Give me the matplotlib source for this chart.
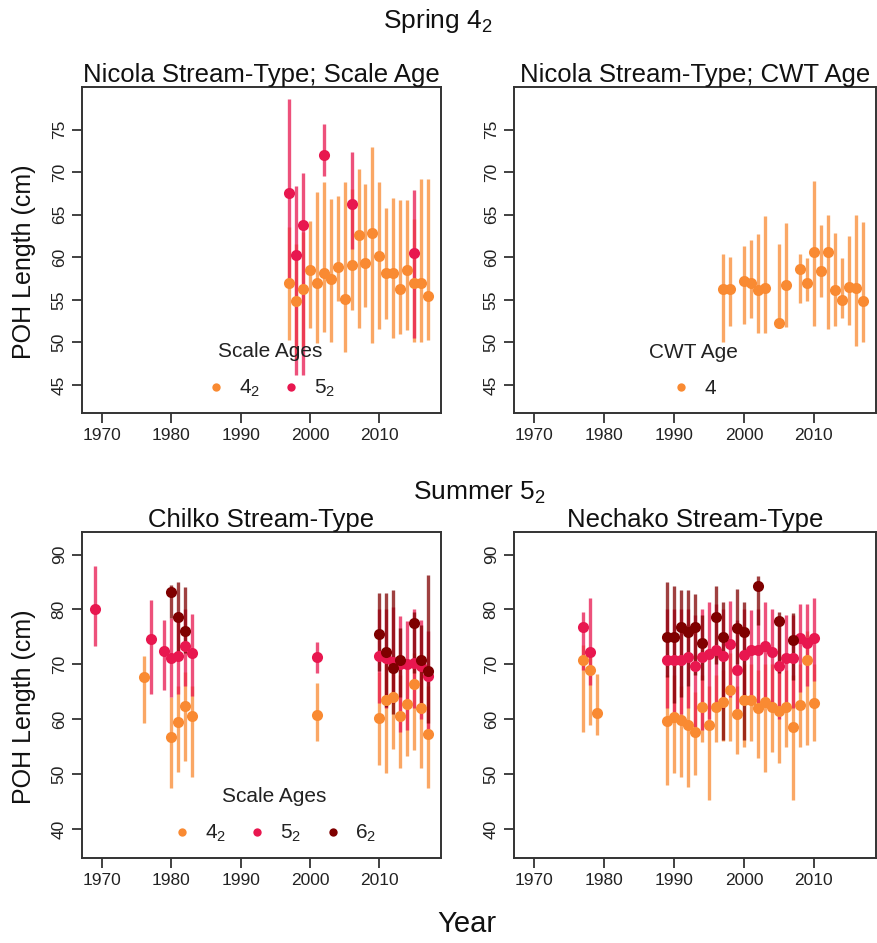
import matplotlib
matplotlib.use("Agg")
import matplotlib.pyplot as plt
from matplotlib.lines import Line2D

plt.rcParams['font.family'] = ['Liberation Sans', 'DejaVu Sans']
plt.rcParams['mathtext.fontset'] = 'custom'
plt.rcParams['mathtext.rm'] = 'Liberation Sans'
plt.rcParams['mathtext.it'] = 'Liberation Sans'
plt.rcParams['mathtext.default'] = 'regular'

C42 = '#F98A32'
C52 = '#E8174F'
C62 = '#7F0000'

# ---------------- Nicola Stream-Type; Scale Age ----------------
nic_a42_years = list(range(1997, 2018))
nic_a42_mean = [57.0, 54.8, 56.3, 58.5, 57.0, 58.2, 57.5, 58.9, 55.1, 59.1, 62.6,
                59.3, 62.9, 60.2, 58.2, 58.2, 56.3, 58.5, 57.0, 57.0, 55.4]
nic_a42_lo = [50.3, 48.0, 49.5, 51.7, 49.9, 51.2, 50.1, 54.8, 48.9, 53.8, 51.7,
              54.1, 49.9, 51.6, 52.8, 50.5, 51.0, 51.4, 50.0, 50.1, 50.3]
nic_a42_hi = [63.5, 61.5, 63.0, 64.3, 67.7, 68.8, 66.9, 67.2, 68.8, 68.0, 70.4,
              68.6, 72.9, 68.8, 65.8, 67.0, 66.7, 66.7, 64.5, 69.2, 69.2]

nic_a52_years = [1997, 1998, 1999, 2002, 2006, 2015]
nic_a52_mean = [67.6, 60.3, 63.8, 72.0, 66.2, 60.5]
nic_a52_lo = [56.7, 46.2, 46.2, 69.6, 61.0, 50.5]
nic_a52_hi = [78.6, 68.4, 69.9, 75.6, 72.4, 67.9]

# ---------------- Nicola Stream-Type; CWT Age ----------------
cwt_years = [1997, 1998, 2000, 2001, 2002, 2003, 2005, 2006, 2008, 2009, 2010,
             2011, 2012, 2013, 2014, 2015, 2016, 2017]
cwt_mean = [56.3, 56.3, 57.2, 57.0, 56.1, 56.4, 52.3, 56.7, 58.6, 57.0, 60.6,
            58.4, 60.6, 56.1, 55.0, 56.5, 56.4, 54.9]
cwt_lo = [50.1, 51.9, 52.2, 52.9, 51.1, 51.1, 51.7, 51.8, 54.6, 54.8, 51.9,
          55.3, 51.6, 51.9, 52.9, 52.0, 49.6, 50.1]
cwt_hi = [60.4, 60.0, 61.3, 62.0, 62.7, 64.9, 61.5, 64.0, 60.4, 59.9, 69.0,
          63.8, 65.0, 62.9, 59.9, 62.5, 65.0, 64.1]

# ---------------- Chilko Stream-Type ----------------
chi_a42_years = [1976, 1980, 1981, 1982, 1983, 2001, 2010, 2011, 2012, 2013,
                 2014, 2015, 2016, 2017]
chi_a42_mean = [67.7, 56.8, 59.4, 62.4, 60.5, 60.8, 60.2, 63.5, 64.1, 60.5,
                62.7, 66.4, 62.0, 57.3]
chi_a42_lo = [59.3, 47.4, 50.4, 52.3, 49.4, 56.0, 51.7, 50.1, 54.5, 51.1,
              53.2, 54.3, 51.1, 47.5]
chi_a42_hi = [71.5, 64.0, 66.0, 68.5, 66.0, 66.5, 68.5, 70.0, 71.0, 68.0,
              70.0, 72.0, 70.0, 66.0]

chi_a52_years = [1969, 1977, 1979, 1980, 1981, 1982, 1983, 2001, 2010, 2011,
                 2012, 2013, 2014, 2015, 2016, 2017]
chi_a52_mean = [80.1, 74.6, 72.5, 71.1, 71.5, 73.3, 72.1, 71.3, 71.5, 71.1,
                70.5, 70.0, 70.0, 70.3, 69.7, 67.9]
chi_a52_lo = [73.3, 64.6, 65.4, 64.0, 64.5, 66.0, 64.2, 68.4, 63.0, 62.0,
              63.0, 57.7, 58.0, 62.0, 60.0, 58.0]
chi_a52_hi = [87.9, 81.7, 78.1, 78.5, 79.0, 80.0, 79.2, 74.1, 80.0, 80.0,
              80.5, 78.8, 77.8, 80.0, 78.0, 76.0]

chi_a62_years = [1980, 1981, 1982, 2010, 2011, 2012, 2013, 2015, 2016, 2017]
chi_a62_mean = [83.1, 78.7, 76.1, 75.5, 72.2, 69.3, 70.7, 77.6, 70.7, 68.8]
chi_a62_lo = [78.4, 70.8, 72.0, 68.7, 62.3, 61.0, 64.0, 68.4, 61.1, 59.3]
chi_a62_hi = [84.5, 84.9, 84.1, 82.9, 82.9, 83.5, 76.6, 79.6, 77.2, 86.3]

# ---------------- Nechako Stream-Type ----------------
nec_a42_years = [1977, 1978, 1979] + list(range(1989, 2011))
nec_a42_mean = [70.8, 69.0, 61.2, 59.7, 60.4, 59.8, 58.9, 57.7, 62.3, 58.9,
                62.3, 63.2, 65.3, 60.9, 63.5, 63.5, 62.0, 63.2, 62.3, 61.4,
                62.3, 58.6, 62.6, 70.7, 63.0]
nec_a42_lo = [57.7, 58.9, 57.1, 48.0, 50.1, 49.5, 47.7, 49.8, 55.9, 45.3,
              55.9, 56.0, 56.0, 53.6, 55.0, 56.0, 53.0, 50.4, 54.0, 52.1,
              55.0, 45.3, 55.0, 55.3, 56.0]
nec_a42_hi = [73.5, 72.0, 68.2, 68.0, 68.0, 66.0, 66.0, 65.0, 68.0, 66.0,
              68.0, 69.0, 72.0, 66.0, 70.0, 70.0, 69.0, 70.0, 70.0, 69.0,
              69.0, 68.0, 70.0, 76.0, 70.0]

nec_a52_years = [1977, 1978] + list(range(1989, 2011))
nec_a52_mean = [76.8, 72.2, 70.8, 70.8, 70.8, 71.3, 69.6, 71.4, 71.9, 72.6,
                71.5, 73.7, 69.0, 71.7, 72.6, 72.6, 73.3, 72.3, 69.6, 71.1,
                71.1, 74.7, 73.8, 74.7]
nec_a52_lo = [69.0, 66.2, 62.0, 60.0, 61.0, 62.0, 58.6, 58.0, 60.0, 63.0,
              62.0, 64.0, 60.0, 63.0, 64.0, 63.0, 64.0, 63.0, 60.0, 62.0,
              62.0, 65.0, 66.0, 67.0]
nec_a52_hi = [79.5, 82.0, 80.0, 80.0, 80.0, 80.0, 79.0, 80.0, 81.3, 81.0,
              80.0, 81.5, 78.0, 80.0, 79.9, 80.0, 81.3, 80.0, 78.0, 79.0,
              79.0, 81.0, 81.0, 82.0]

nec_a62_years = [1989, 1990, 1991, 1992, 1993, 1994, 1996, 1997, 1999, 2000,
                 2002, 2005, 2007]
nec_a62_mean = [75.0, 75.0, 76.7, 75.8, 76.7, 73.8, 78.7, 75.0, 76.6, 75.9,
                84.3, 77.8, 74.4]
nec_a62_lo = [67.7, 63.0, 64.1, 66.0, 68.0, 67.1, 70.0, 56.2, 70.0, 56.2,
              77.2, 68.4, 67.1]
nec_a62_hi = [84.9, 84.3, 83.5, 83.5, 82.8, 79.0, 84.3, 81.3, 83.8, 81.4,
              86.1, 79.6, 79.3]

XTICKS = [1970, 1980, 1990, 2000, 2010]
W, H = 877, 943
fig = plt.figure(figsize=(W / 100, H / 100), dpi=100)


def make_ax(x0, y0, x1, y1):
    return fig.add_axes([x0 / W, 1 - y1 / H, (x1 - x0) / W, (y1 - y0) / H])


def style(ax, ylim, yticks, title):
    ax.set_xlim(1967.1, 2018.9)
    ax.set_ylim(*ylim)
    ax.set_xticks(XTICKS)
    ax.set_yticks(yticks)
    ax.set_yticklabels([str(v) for v in yticks], rotation=90, va='center')
    ax.tick_params(direction='out', length=7, width=1.3, color='#333333',
                   labelsize=12.5, labelcolor='#222222', pad=4)
    for s in ax.spines.values():
        s.set_linewidth(1.4)
        s.set_color('#333333')
    ax.set_title(title, fontsize=18.5, pad=1, color='#111111')


def draw(ax, series):
    for yrs, m, lo, hi, c in series:
        ax.vlines(yrs, lo, hi, colors=c, linewidth=2.4, alpha=0.75, zorder=2)
    for yrs, m, lo, hi, c in series:
        ax.plot(yrs, m, 'o', color=c, markersize=8, markeredgewidth=0, zorder=3)


def legend(ax, labels, colors, title, anchor):
    hs = [Line2D([], [], marker='o', linestyle='none', color=c, markersize=6,
                 markeredgewidth=0) for c in colors]
    lg = ax.legend(hs, labels, title=title, ncol=len(labels), frameon=False,
                   loc='center', bbox_to_anchor=anchor, fontsize=15,
                   title_fontsize=15, handletextpad=0.6, columnspacing=1.0,
                   borderpad=0.2, labelspacing=0.3, handlelength=1.0)
    lg._legend_box.sep = 12
    lg.get_title().set_color('#222222')
    for t in lg.get_texts():
        t.set_color('#222222')


L0, L1 = 82, 441
R0, R1 = 514, 876
T0, T1 = 87, 413
B0, B1 = 532, 858

ax1 = make_ax(L0, T0, L1, T1)
draw(ax1, [(nic_a42_years, nic_a42_mean, nic_a42_lo, nic_a42_hi, C42),
           (nic_a52_years, nic_a52_mean, nic_a52_lo, nic_a52_hi, C52)])
style(ax1, (41.7, 80.0), [45, 50, 55, 60, 65, 70, 75], 'Nicola Stream-Type; Scale Age')
legend(ax1, ['$4_2$', '$5_2$'], [C42, C52], 'Scale Ages', (0.525, 0.13))

ax2 = make_ax(R0, T0, R1, T1)
draw(ax2, [(cwt_years, cwt_mean, cwt_lo, cwt_hi, C42)])
style(ax2, (41.7, 80.0), [45, 50, 55, 60, 65, 70, 75], 'Nicola Stream-Type; CWT Age')
legend(ax2, ['4'], [C42], 'CWT Age', (0.495, 0.13))

ax3 = make_ax(L0, B0, L1, B1)
draw(ax3, [(chi_a42_years, chi_a42_mean, chi_a42_lo, chi_a42_hi, C42),
           (chi_a52_years, chi_a52_mean, chi_a52_lo, chi_a52_hi, C52),
           (chi_a62_years, chi_a62_mean, chi_a62_lo, chi_a62_hi, C62)])
style(ax3, (34.7, 94.1), [40, 50, 60, 70, 80, 90], 'Chilko Stream-Type')
legend(ax3, ['$4_2$', '$5_2$', '$6_2$'], [C42, C52, C62], 'Scale Ages', (0.535, 0.13))

ax4 = make_ax(R0, B0, R1, B1)
draw(ax4, [(nec_a42_years, nec_a42_mean, nec_a42_lo, nec_a42_hi, C42),
           (nec_a52_years, nec_a52_mean, nec_a52_lo, nec_a52_hi, C52),
           (nec_a62_years, nec_a62_mean, nec_a62_lo, nec_a62_hi, C62)])
style(ax4, (34.7, 94.1), [40, 50, 60, 70, 80, 90], 'Nechako Stream-Type')

fig.text(438 / W, 1 - 21 / H, 'Spring $4_2$', ha='center', va='center', fontsize=19, color='#111111')
fig.text(480 / W, 1 - 493 / H, 'Summer $5_2$', ha='center', va='center', fontsize=19, color='#111111')
fig.text(24 / W, 1 - 262 / H, 'POH Length (cm)', rotation=90, ha='center', va='center', fontsize=18, color='#111111')
fig.text(24 / W, 1 - 707 / H, 'POH Length (cm)', rotation=90, ha='center', va='center', fontsize=18, color='#111111')
fig.text(467 / W, 1 - 924 / H, 'Year', ha='center', va='center', fontsize=21, color='#111111')

fig.savefig('out.png', dpi=100)
